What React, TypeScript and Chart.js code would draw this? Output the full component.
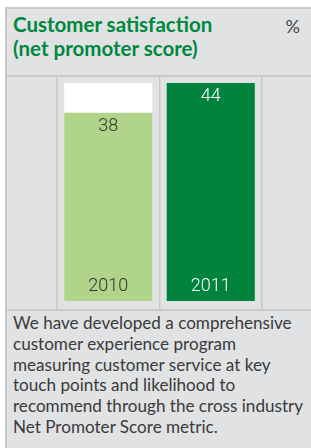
import React, { useEffect, useRef } from "react";
import { Chart, registerables } from "chart.js";

Chart.register(...registerables);

const categories = ["2010", "2011"];
const npsValues = [38, 44];
const backdropValues = [44, 44];
const barColors = ["#b0d58a", "#00843d"];
const labelColors = ["#333333", "#ffffff"];

const title1 = "Customer satisfaction";
const title2 = "(net promoter score)";
const unitLabel = "%";
const footerLines = [
  "We have developed a comprehensive",
  "customer experience program",
  "measuring customer service at key",
  "touch points and likelihood to",
  "recommend through the cross industry",
  "Net Promoter Score metric.",
];

const GRAY = "#e1e2e4";
const LINE = "#c8c9cb";

const barLabelPlugin = {
  id: "barLabels",
  afterDatasetsDraw(chart: any) {
    const ctx = chart.ctx;
    const meta = chart.getDatasetMeta(0);
    ctx.save();
    ctx.font = "300 18px Roboto";
    ctx.textAlign = "center";
    ctx.textBaseline = "middle";
    meta.data.forEach((el: any, i: number) => {
      ctx.fillStyle = labelColors[i];
      ctx.fillText(String(npsValues[i]), el.x, el.y + 13.5);
      ctx.fillText(categories[i], el.x, el.base - 14.5);
    });
    ctx.restore();
  },
};

function NpsChart() {
  const ref = useRef<HTMLCanvasElement | null>(null);
  useEffect(() => {
    if (!ref.current) return;
    const chart = new Chart(ref.current, {
      type: "bar",
      data: {
        labels: categories,
        datasets: [
          {
            label: "NPS",
            data: npsValues,
            backgroundColor: barColors,
            borderWidth: 0,
            grouped: false,
            barPercentage: 0.86,
            categoryPercentage: 1,
          },
          {
            label: "Backdrop",
            data: backdropValues,
            backgroundColor: "#ffffff",
            borderWidth: 0,
            grouped: false,
            barPercentage: 0.86,
            categoryPercentage: 1,
          },
        ],
      },
      options: {
        animation: false,
        responsive: false,
        maintainAspectRatio: false,
        layout: { padding: { left: 50, right: 49, top: 0, bottom: 0 } },
        plugins: {
          legend: { display: false },
          tooltip: { enabled: false },
          title: { display: false },
        },
        scales: {
          x: {
            display: true,
            ticks: { display: false },
            grid: {
              display: true,
              drawTicks: false,
              offset: true,
              color: LINE,
              lineWidth: 1.5,
            },
            border: { display: false },
          },
          y: {
            display: false,
            min: -1.6,
            max: 45.2,
          },
        },
      },
      plugins: [barLabelPlugin],
    });
    return () => chart.destroy();
  }, []);
  return <canvas ref={ref} width={304} height={232} style={{ display: "block" }} />;
}

export default function App() {
  return (
    <div
      style={{
        position: "absolute",
        left: 5,
        top: 7,
        width: 306,
        height: 441,
        background: GRAY,
        borderTop: `2px solid ${LINE}`,
        borderLeft: `2px solid ${LINE}`,
        boxSizing: "border-box",
        fontFamily: "Lato, 'Noto Sans', sans-serif",
        overflow: "hidden",
      }}
    >
      <div
        style={{
          position: "relative",
          height: 66,
          borderBottom: `2px solid ${LINE}`,
          boxSizing: "content-box",
        }}
      >
        <div
          style={{
            position: "absolute",
            left: 6,
            top: 4,
            color: "#00883f",
            fontWeight: 700,
            fontSize: 20.5,
            lineHeight: "23.5px",
            whiteSpace: "nowrap",
          }}
        >
          <div>{title1}</div>
          <div>{title2}</div>
        </div>
        <div
          style={{
            position: "absolute",
            right: 11,
            top: 6,
            color: "#444444",
            fontSize: 18,
            lineHeight: "23px",
          }}
        >
          {unitLabel}
        </div>
      </div>
      <div style={{ height: 232, borderBottom: `2px solid ${LINE}` }}>
        <NpsChart />
      </div>
      <div
        style={{
          padding: "2px 6px 0 6px",
          color: "#3a3a3a",
          fontSize: 17.1,
          lineHeight: "20.8px",
          whiteSpace: "nowrap",
        }}
      >
        {footerLines.map((l, i) => (
          <div key={i}>{l}</div>
        ))}
      </div>
    </div>
  );
}
